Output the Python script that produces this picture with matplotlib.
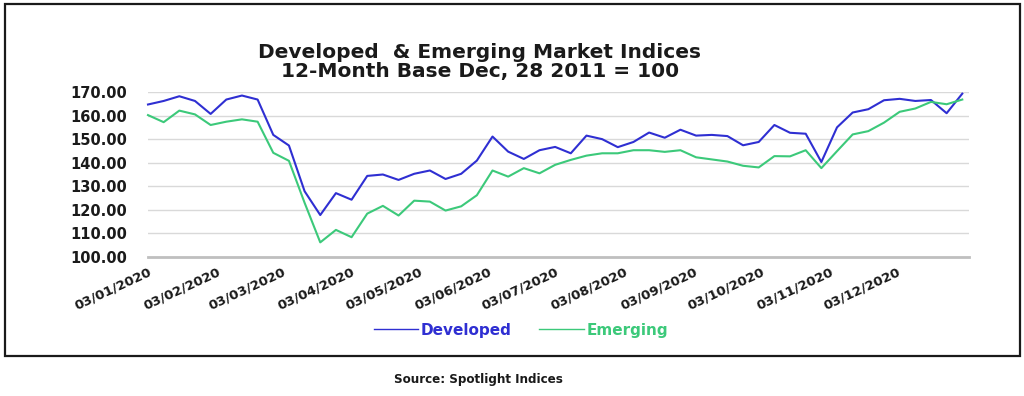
import matplotlib
matplotlib.use("Agg")
import matplotlib.pyplot as plt
from matplotlib.lines import Line2D
from matplotlib.patches import Rectangle
from matplotlib import font_manager
import pandas as pd

# ---- data ----
dates = pd.date_range("2020-01-03", periods=53, freq="7D")
developed = [164.7, 166.2, 168.2, 166.2, 160.7, 166.8, 168.5, 166.8, 151.8, 147.3,
             127.9, 117.8, 127.1, 124.3, 134.4, 135.0, 132.7, 135.3, 136.7, 133.1,
             135.3, 140.9, 151.1, 144.7, 141.6, 145.3, 146.7, 144.0, 151.5, 150.0,
             146.6, 148.8, 152.8, 150.6, 154.0, 151.5, 151.8, 151.3, 147.4, 148.8,
             156.0, 152.7, 152.3, 140.3, 155.0, 161.3, 162.7, 166.5, 167.1, 166.2,
             166.6, 161.0, 169.3]
emerging = [160.2, 157.2, 162.1, 160.5, 156.0, 157.4, 158.4, 157.4, 144.2, 140.8,
            123.0, 106.2, 111.5, 108.4, 118.4, 121.7, 117.6, 123.9, 123.5, 119.7,
            121.5, 126.2, 136.7, 134.1, 137.7, 135.5, 139.1, 141.2, 143.0, 144.0,
            144.0, 145.3, 145.3, 144.6, 145.3, 142.3, 141.4, 140.5, 138.7, 138.0,
            142.8, 142.7, 145.3, 137.7, 144.9, 152.0, 153.4, 157.0, 161.6, 163.0,
            165.8, 164.8, 166.8]
tick_dates = ["2020-01-03", "2020-02-03", "2020-03-03", "2020-04-03", "2020-05-03",
              "2020-06-03", "2020-07-03", "2020-08-03", "2020-09-03", "2020-10-03",
              "2020-11-03", "2020-12-03"]
y_ticks = [100, 110, 120, 130, 140, 150, 160, 170]
series_names = ["Developed", "Emerging"]
title_lines = ["Developed  & Emerging Market Indices", "12-Month Base Dec, 28 2011 = 100"]
source_text = "Source: Spotlight Indices"

BLUE = "#2f2fd2"
GREEN = "#3cc97a"

W, H = 1024, 396
fig = plt.figure(figsize=(W / 100, H / 100), dpi=100)
fig.patch.set_facecolor("white")

def fx(px):
    return px / W

def fy(py):
    return 1 - py / H

ax = fig.add_axes([fx(148), fy(257), fx(969) - fx(148), fy(92) - fy(257)])
ax.plot(dates, developed, color=BLUE, lw=1.5, clip_on=False, zorder=3)
ax.plot(dates, emerging, color=GREEN, lw=1.5, clip_on=False, zorder=3)

ax.set_ylim(100, 170)
ax.set_xlim(pd.Timestamp("2020-01-03"), pd.Timestamp("2021-01-04"))
ax.set_yticks(y_ticks)
ax.set_yticklabels([f"{v:.2f}" for v in y_ticks])
for v in y_ticks[1:]:
    ax.axhline(v, color="#d9d9d9", lw=1.0, zorder=1)
ax.axhline(100, color="#bfbfbf", lw=2.0, zorder=2, clip_on=False)

tds = pd.to_datetime(tick_dates)
ax.set_xticks(tds)
ax.set_xticklabels([d.strftime("%d/%m/%Y") for d in tds])
for lab in ax.get_xticklabels():
    lab.set_rotation(25)
    lab.set_ha("right")
    lab.set_va("top")
    lab.set_rotation_mode("anchor")
    lab.set_fontweight("bold")
    lab.set_fontsize(9.5)
    lab.set_color("#1a1a1a")
for lab in ax.get_yticklabels():
    lab.set_fontweight("bold")
    lab.set_fontsize(10.5)
    lab.set_color("#1a1a1a")

ax.tick_params(axis="y", length=0, pad=15)
ax.tick_params(axis="x", length=0, pad=6)
for s in ax.spines.values():
    s.set_visible(False)
ax.set_facecolor("none")

# titles
fig.text(fx(480), fy(52), title_lines[0], ha="center", va="center",
         fontsize=14.5, fontweight="bold", color="#1a1a1a", family="DejaVu Sans")
fig.text(fx(480), fy(72), title_lines[1], ha="center", va="center",
         fontsize=14.5, fontweight="bold", color="#1a1a1a", family="DejaVu Sans")

# legend
handles = [Line2D([0], [0], color=BLUE, lw=1.0), Line2D([0], [0], color=GREEN, lw=1.0)]
leg = fig.legend(handles, series_names, loc="center", bbox_to_anchor=(fx(521), fy(330)),
                 ncol=2, frameon=False, handlelength=2.9, handletextpad=0.2,
                 columnspacing=1.8, prop={"weight": "bold", "size": 11})
for t, c in zip(leg.get_texts(), [BLUE, GREEN]):
    t.set_color(c)

# outer frame
fig.add_artist(Rectangle((fx(5), fy(356)), fx(1020) - fx(5), fy(4) - fy(356),
                         transform=fig.transFigure, fill=False, edgecolor="#1a1a1a",
                         lw=1.6, zorder=0))

names = {f.name for f in font_manager.fontManager.ttflist}
src_family = "Liberation Sans Narrow" if "Liberation Sans Narrow" in names else "DejaVu Sans"
fig.text(fx(478), fy(380), source_text, ha="center", va="center", fontsize=9.5,
         fontweight="bold", color="#1a1a1a", family=src_family,
         fontstretch="condensed")

fig.savefig("out.png", dpi=100, facecolor="white")
